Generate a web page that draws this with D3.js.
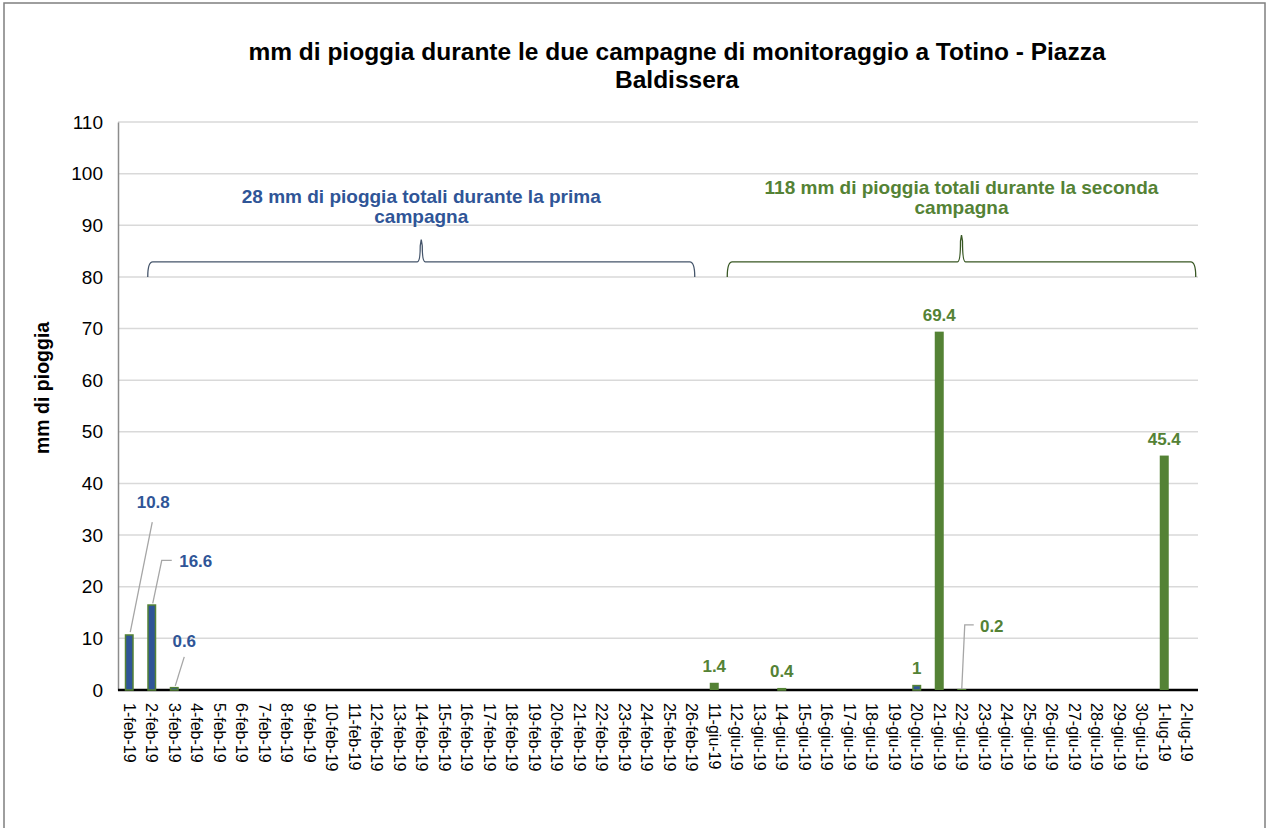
<!DOCTYPE html>
<html>
<head>
<meta charset="utf-8">
<script src="https://cdn.jsdelivr.net/npm/d3@7"></script>
<style>
  body { margin: 0; background: #fff; }
  text { font-family: "Liberation Sans", Arial, sans-serif; }
</style>
</head>
<body>
<div id="chart"></div>
<script>
// categories (days of the two campaigns)
const febDays = d3.range(1, 27).map(d => d + '-feb-19');
const giuDays = d3.range(11, 31).map(d => d + '-giu-19');
const lugDays = ['1-lug-19', '2-lug-19'];
const categories = febDays.concat(giuDays, lugDays);

// rain values (mm), two series: blue bars and green bars
const blueDays = ['1-feb-19', '2-feb-19', '3-feb-19', '14-giu-19', '20-giu-19'];
const blueValues = [10.8, 16.6, 0.6, 0.4, 1];
const greenDays = ['11-giu-19', '21-giu-19', '22-giu-19', '1-lug-19'];
const greenValues = [1.4, 69.4, 0.2, 45.4];

const yTicks = [0, 10, 20, 30, 40, 50, 60, 70, 80, 90, 100, 110];

const BLUE = '#2f5597', GREEN = '#548235';

const W = 1268, H = 828;
const margin = { top: 122, right: 70, bottom: 138, left: 118 };

const svg = d3.select('#chart').append('svg')
    .attr('width', W).attr('height', H);

// outer frame
svg.append('rect')
    .attr('x', 4).attr('y', 3).attr('width', 1261).attr('height', 840)
    .attr('fill', 'none').attr('stroke', '#7f7f7f').attr('stroke-width', 1.5);

const x = d3.scaleBand()
    .domain(categories)
    .range([margin.left, W - margin.right])
    .paddingInner(0.6).paddingOuter(0.3);

const y = d3.scaleLinear()
    .domain([0, 110])
    .range([H - margin.bottom, margin.top]);

const cx = d => x(d) + x.bandwidth() / 2;
const x0 = margin.left, x1 = W - margin.right;

// gridlines
svg.append('g').selectAll('line')
    .data(yTicks.filter(t => t > 0))
    .join('line')
    .attr('x1', x0).attr('x2', x1)
    .attr('y1', d => y(d)).attr('y2', d => y(d))
    .attr('stroke', '#d9d9d9').attr('stroke-width', 1.5);

// y axis
const yAxis = svg.append('g')
    .attr('transform', `translate(${x0},0)`)
    .call(d3.axisLeft(y).tickValues(yTicks).tickSize(0).tickPadding(15));
yAxis.select('.domain').attr('stroke', '#8c8c8c').attr('stroke-width', 1.5);
yAxis.selectAll('text').attr('font-size', 19).attr('fill', '#000')
    .style('font-family', '"Liberation Sans", Arial, sans-serif');

// x axis
const xAxis = svg.append('g')
    .attr('transform', `translate(0,${y(0)})`)
    .call(d3.axisBottom(x).tickSize(0).tickSizeOuter(0));
xAxis.select('.domain').attr('stroke', '#000').attr('stroke-width', 2.5)
    .attr('d', `M${x0},0H${x1}`);
xAxis.selectAll('text')
    .attr('font-size', 16).attr('fill', '#000')
    .style('font-family', '"Liberation Sans", Arial, sans-serif')
    .attr('text-anchor', 'start')
    .attr('dy', '0.35em')
    .attr('transform', 'translate(0,13) rotate(90)')
    .attr('x', 0).attr('y', 0);

// bars
const blue = blueDays.map((d, i) => ({ day: d, v: blueValues[i] }));
const green = greenDays.map((d, i) => ({ day: d, v: greenValues[i] }));

svg.append('g').selectAll('rect')
    .data(green).join('rect')
    .attr('x', d => x(d.day)).attr('width', x.bandwidth())
    .attr('y', d => y(d.v)).attr('height', d => y(0) - y(d.v))
    .attr('fill', GREEN);

svg.append('g').selectAll('rect')
    .data(blue).join('rect')
    .attr('x', d => x(d.day) + 0.75).attr('width', x.bandwidth() - 1.5)
    .attr('y', d => y(d.v) + 0.75).attr('height', d => Math.max(0, y(0) - y(d.v) - 0.75))
    .attr('fill', BLUE).attr('stroke', GREEN).attr('stroke-width', 1.5);

// data labels: offset from bar top (dx, dy), optional leader line points
const labelLayout = {
  '1-feb-19': { dx: 24, dy: -126, leader: [[1, -2], [23, -112]] },
  '2-feb-19': { dx: 44, dy: -37, leader: [[1, -1], [10, -44], [20, -44]] },
  '3-feb-19': { dx: 10, dy: -40, leader: [[1, -1], [10, -30]] },
  '22-giu-19': { dx: 30, dy: -57, leader: [[0, 0], [3, -64], [12, -64]] },
};
const labels = blue.map(d => ({ ...d, c: d.day.includes('feb') ? BLUE : GREEN }))
    .concat(green.map(d => ({ ...d, c: GREEN })));

const lg = svg.append('g');
labels.forEach(d => {
  const bx = cx(d.day), by = y(d.v);
  const L = labelLayout[d.day];
  if (L && L.leader) {
    lg.append('path')
      .attr('d', d3.line()(L.leader.map(p => [bx + p[0], by + p[1]])))
      .attr('fill', 'none').attr('stroke', '#a6a6a6').attr('stroke-width', 1.3);
  }
  lg.append('text')
    .attr('x', bx + (L ? L.dx : 0))
    .attr('y', by + (L ? L.dy : -11))
    .attr('text-anchor', 'middle')
    .attr('font-size', 17).attr('font-weight', 'bold')
    .attr('fill', d.c)
    .text(d.v);
});

// curly brackets over the two campaigns
function bracket(xa, xb, yEnd, yBar, yTip, color) {
  const m = (xa + xb) / 2;
  const p = d3.path();
  p.moveTo(xa, yEnd);
  p.quadraticCurveTo(xa, yBar, xa + 5, yBar);
  p.lineTo(m - 4, yBar);
  p.quadraticCurveTo(m - 1, yBar, m - 1, yTip + 6);
  p.lineTo(m, yTip);
  p.lineTo(m + 1, yTip + 6);
  p.quadraticCurveTo(m + 1, yBar, m + 4, yBar);
  p.lineTo(xb - 5, yBar);
  p.quadraticCurveTo(xb, yBar, xb, yEnd);
  svg.append('path').attr('d', p.toString())
    .attr('fill', 'none').attr('stroke', color).attr('stroke-width', 1.3);
  return m;
}
const m1 = bracket(cx('2-feb-19') - 4, cx('26-feb-19') + 3, y(80), y(82.9), y(87.2), '#44546a');
const m2 = bracket(cx('11-giu-19') + 13, cx('2-lug-19') + 9, y(80), y(82.9), y(88.1), '#385723');

function note(xm, yTop, lines, color) {
  const t = svg.append('text')
    .attr('text-anchor', 'middle').attr('font-size', 19)
    .attr('font-weight', 'bold').attr('fill', color);
  lines.forEach((s, i) => t.append('tspan').attr('x', xm).attr('y', yTop + i * 20).text(s));
}
note(m1, 203, ['28 mm di pioggia totali durante la prima', 'campagna'], BLUE);
note(m2, 194, ['118 mm di pioggia totali durante la seconda', 'campagna'], GREEN);

// title
const title = svg.append('text')
  .attr('text-anchor', 'middle').attr('font-size', 24.5).attr('font-weight', 'bold').attr('fill', '#000');
title.append('tspan').attr('x', 677).attr('y', 60)
  .text('mm di pioggia durante le due campagne di monitoraggio a Totino - Piazza');
title.append('tspan').attr('x', 677).attr('y', 88).text('Baldissera');

// y axis title
svg.append('text')
  .attr('transform', `translate(49,${y(58.5)}) rotate(-90)`)
  .attr('text-anchor', 'middle').attr('font-size', 19.5).attr('font-weight', 'bold')
  .text('mm di pioggia');
</script>
</body>
</html>
